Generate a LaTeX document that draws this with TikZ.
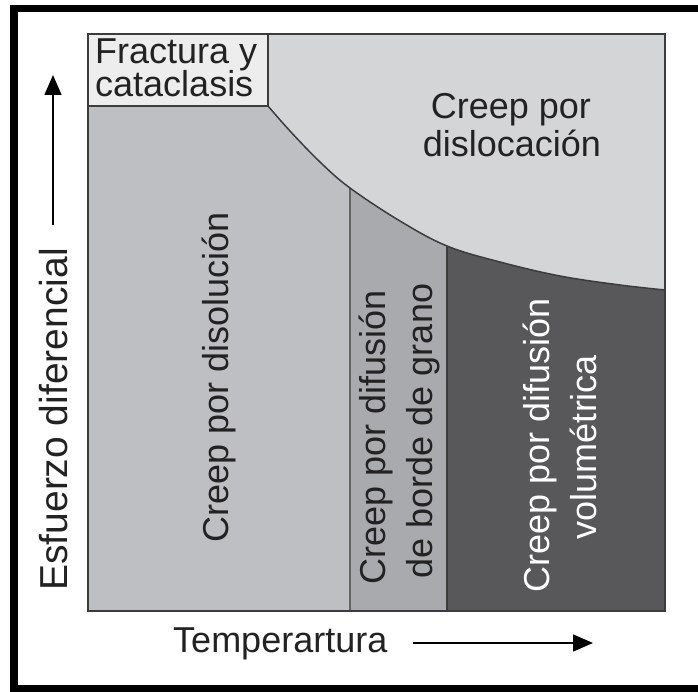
\documentclass[tikz,border=0pt]{standalone}
\usepackage{fontspec}
\setmainfont{Liberation Sans}
\usetikzlibrary{arrows.meta}
\definecolor{fracfill}{HTML}{EDEDED}
\definecolor{dislfill}{HTML}{D4D5D7}
\definecolor{disofill}{HTML}{BEBFC2}
\definecolor{bordfill}{HTML}{A9AAAD}
\definecolor{volfill}{HTML}{58585A}
\definecolor{outl}{HTML}{3C3C3C}
\definecolor{txt}{HTML}{222222}
\begin{document}
\begin{tikzpicture}[x=1pt,y=-1pt,
  lbl/.style={inner sep=0pt, font=\fontsize{36}{40}\selectfont, text=txt},
  vlbl/.style={lbl, rotate=90, anchor=base},
  frame/.style={line width=7.5pt, black},
  axisarrow/.style={line width=1.5pt, -{Triangle[length=20pt,width=17pt]}}]
\useasboundingbox (0,0) rectangle (698,692);
% outer frame
\draw[frame] (10,8.5) -- (698,8.5);
\draw[frame] (14,5) -- (14,692);
\draw[frame] (10,689) -- (698,689);
% background of dislocation field
\fill[dislfill] (88,34) rectangle (665,611);
% lower fields
\begin{scope}
\path[clip] (88,611) -- (88,106) -- plot[smooth,tension=0.6] coordinates {(268,106) (290,131) (320,162) (350,188) (400,221) (447,246) (500,262) (560,276) (620,285) (665,290)} -- (665,611) -- cycle;
\fill[disofill] (88,100) rectangle (350,611);
\fill[bordfill] (350,100) rectangle (447,611);
\fill[volfill] (447,100) rectangle (665,611);
\draw[outl!80, line width=1.5pt] (350,100) -- (350,611);
\draw[outl, line width=1.2pt] (447,100) -- (447,611);
\end{scope}
\draw[outl, line width=1.5pt] plot[smooth,tension=0.6] coordinates {(268,106) (290,131) (320,162) (350,188) (400,221) (447,246) (500,262) (560,276) (620,285) (665,290)};
% fracture box
\draw[outl, fill=fracfill, line width=1.5pt] (88,34) rectangle (268,106);
% main outline
\draw[outl, line width=2pt] (88,34) rectangle (665,611);
% labels
\node[lbl, anchor=base west] (f1) at (95,64) {Fractura y};
\node[lbl, anchor=base west] (f2) at (95,97) {cataclasis};
\node[lbl, anchor=base] (c1) at (511,119) {Creep por};
\node[lbl, anchor=base] (c2) at (512,157) {dislocación};
\node[vlbl] (d1) at (228,377) {Creep por disolución};
\node[vlbl] (g1) at (385,437) {Creep por difusión};
\node[vlbl] (g2) at (432,431) {de borde de grano};
\node[vlbl, text=white] (v1) at (549,445) {Creep por difusión};
\node[vlbl, text=white] (v2) at (596,447) {volumétrica};
\node[lbl, font=\fontsize{39}{42}\selectfont, rotate=90, anchor=base east] (ylab) at (67,248) {Esfuerzo diferencial};
\node[lbl, anchor=base west] (xlab) at (173,652) {Temperartura};
% axis arrows
\coordinate (ys) at (53,225);
\coordinate (ye) at (53,75);
\coordinate (xs) at (413,643);
\coordinate (xe) at (593,643);
\draw[axisarrow] (ys) -- (ye);
\draw[axisarrow] (xs) -- (xe);
\end{tikzpicture}
\end{document}
